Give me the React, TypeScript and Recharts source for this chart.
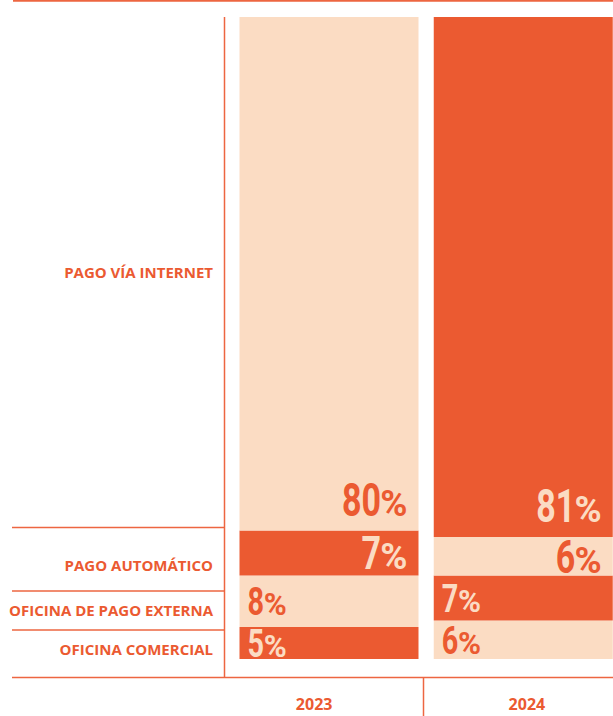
import React from "react";
import { BarChart, Bar, XAxis, YAxis, Cell, LabelList, Customized } from "recharts";

// ---- data ----
const years = ["2023", "2024"];
const comercial = [5, 6];
const externa = [8, 7];
const automatico = [7, 6];
const internet = [80, 81];
const rowNames = [
  "PAGO VÍA INTERNET",
  "PAGO AUTOMÁTICO",
  "OFICINA DE PAGO EXTERNA",
  "OFICINA COMERCIAL",
];

const data = years.map((year, i) => ({
  year,
  comercial: comercial[i],
  externa: externa[i],
  automatico: automatico[i],
  internet: internet[i],
}));

// ---- look & layout ----
const DARK = "#EB5A31";
const LIGHT = "#FBDCC3";
const RULE = "#ED6641";
const W = 620; // a bit wider than the page, the wrapper clips it
const H = 716;
const M = { top: 17, right: 0, bottom: 0, left: 12 };
const X_AXIS_H = 57;
const Y_AXIS_W = 219.5;
const SX = 0.74; // squeeze digits into a condensed look
const LABEL_FONT = "'Open Sans', sans-serif";
const NUM_FONT = "Roboto, sans-serif";

// where the row names sit, in y-axis units (same order as rowNames)
const ROW_LABEL_AT = [60.1, 14.6, 7.55, 1.4];
const YEAR_DX = [-14.5, 4];

// bottom-to-top stack order
const series = [
  { key: "comercial", align: "left", big: false, place: "center" },
  { key: "externa", align: "left", big: false, place: "center" },
  { key: "automatico", align: "right", big: true, place: "center" },
  { key: "internet", align: "right", big: true, place: "bottom" },
];

const isDark = (s: number, c: number) => (s + c) % 2 === 0;

function PctLabel(props: any) {
  const { value, index, spec, sIdx } = props;
  const vb = props.viewBox ?? props;
  const x = Number(vb.x ?? props.x);
  const y = Number(vb.y ?? props.y);
  const w = Number(vb.width ?? props.width);
  const h = Number(vb.height ?? props.height);
  const fill = isDark(sIdx, index) ? LIGHT : DARK;
  const dSize = spec.big ? 46 : 39;
  const pSize = dSize * 0.8;
  const capH = dSize * 0.711;
  const baseline = spec.place === "bottom" ? y + h - 15 : y + h / 2 + capH / 2;
  const num = String(value);
  const digitW = num.length * 0.562 * dSize * SX;
  const pctW = 0.72 * pSize;

  let dx: number, px: number, dAnchor: "start" | "end", pAnchor: "start" | "end";
  if (spec.align === "right") {
    const r = x + w - 11;
    px = r;
    pAnchor = "end";
    dx = r - pctW;
    dAnchor = "end";
  } else {
    const l = x + 8;
    dx = l;
    dAnchor = "start";
    px = l + digitW;
    pAnchor = "start";
  }
  return (
    <g>
      <text
        transform={`translate(${dx},${baseline}) scale(${SX},1)`}
        textAnchor={dAnchor}
        fontFamily={NUM_FONT}
        fontWeight={700}
        fontSize={dSize}
        fill={fill}
      >
        {num}
      </text>
      <text
        x={px}
        y={baseline}
        textAnchor={pAnchor}
        fontFamily={NUM_FONT}
        fontWeight={700}
        fontSize={pSize}
        fill={fill}
      >
        %
      </text>
    </g>
  );
}

function RowTick(props: any) {
  const { x, y, payload } = props;
  const i = ROW_LABEL_AT.indexOf(payload.value);
  return (
    <text
      x={x}
      y={y}
      dy="0.35em"
      textAnchor="end"
      fontFamily={LABEL_FONT}
      fontWeight={700}
      fontSize={15}
      fill={DARK}
    >
      {rowNames[i]}
    </text>
  );
}

function YearTick(props: any) {
  const { x, payload, index } = props;
  return (
    <text
      x={x + (YEAR_DX[index] ?? 0)}
      y={H - 6}
      textAnchor="middle"
      fontFamily={LABEL_FONT}
      fontWeight={700}
      fontSize={16}
      fill={DARK}
    >
      {payload.value}
    </text>
  );
}

// frame rules: top rule, left divider, row separators, bottom rule, year divider
function Frame() {
  const base = 677.5;
  return (
    <g stroke={RULE} fill="none">
      <line x1={13} x2={613} y1={0.75} y2={0.75} strokeWidth={2} />
      <line x1={224.5} x2={224.5} y1={M.top} y2={base} strokeWidth={1.5} />
      {[527.5, 591, 630].map(y => (
        <line key={y} x1={12} x2={225} y1={y} y2={y} strokeWidth={1.5} />
      ))}
      <line x1={12} x2={613} y1={base} y2={base} strokeWidth={1.5} />
      <line x1={423.5} x2={423.5} y1={base} y2={H} strokeWidth={1.5} />
    </g>
  );
}

export default function App() {
  return (
    <div style={{ width: 613, height: H, overflow: "hidden", background: "#fff" }}>
      <style>{`body{margin:0}`}</style>
      <BarChart width={W} height={H} data={data} margin={M}>
        <XAxis
          dataKey="year"
          axisLine={false}
          tickLine={false}
          height={X_AXIS_H}
          tick={<YearTick />}
          interval={0}
        />
        <YAxis
          domain={[0, 100]}
          ticks={ROW_LABEL_AT}
          width={Y_AXIS_W}
          axisLine={false}
          tickLine={false}
          tickSize={6}
          tickMargin={12.5}
          interval={0}
          tick={<RowTick />}
          allowDataOverflow
        />
        {series.map((spec, s) => (
          <Bar
            key={spec.key}
            dataKey={spec.key}
            stackId="a"
            barSize={179}
            isAnimationActive={false}
          >
            {data.map((_, c) => (
              <Cell key={c} fill={isDark(s, c) ? DARK : LIGHT} />
            ))}
            <LabelList
              dataKey={spec.key}
              content={(p: any) => <PctLabel {...p} spec={spec} sIdx={s} />}
            />
          </Bar>
        ))}
        <Customized component={<Frame />} />
      </BarChart>
    </div>
  );
}
